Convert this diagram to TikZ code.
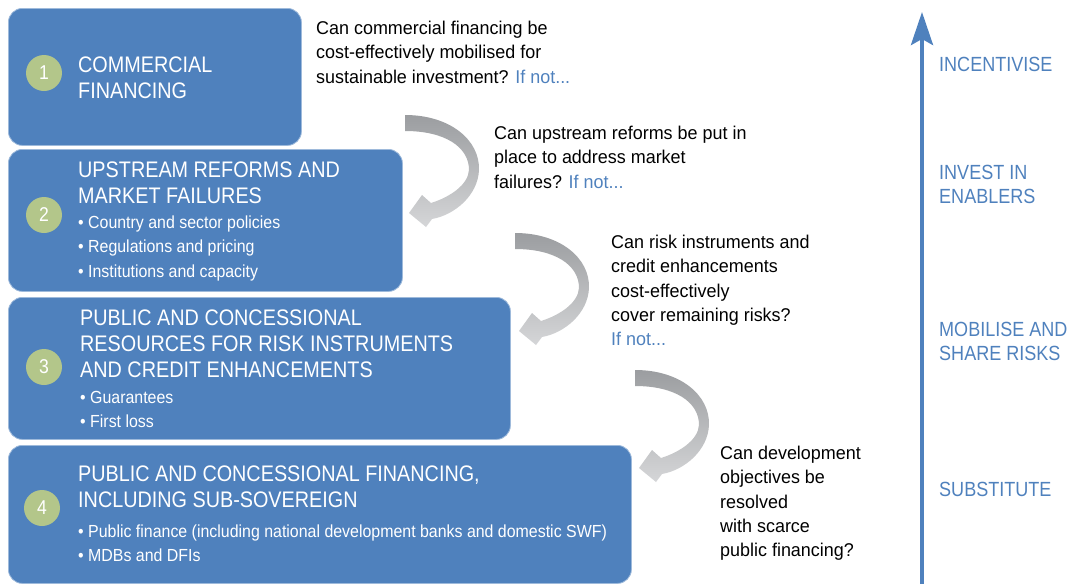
\documentclass[tikz,border=0pt]{standalone}
\usepackage{fontspec}
\setmainfont{Liberation Sans}
\newfontfamily\narrowA{Liberation Sans}[FakeStretch=0.88]
\newfontfamily\narrowB{Liberation Sans}[FakeStretch=0.91]
\newfontfamily\narrowC{Liberation Sans}[FakeStretch=0.97]
\usetikzlibrary{arrows.meta}
\definecolor{boxblue}{HTML}{4F81BD}
\definecolor{labelblue}{HTML}{4F81BD}
\definecolor{circgreen}{HTML}{B3C68A}
\definecolor{darkgrey}{HTML}{9B9DA0}
\definecolor{lightgrey}{HTML}{D5D6D8}
\newcommand{\mylines}[1]{\begin{tabular}[t]{@{}l@{}}#1\end{tabular}}
\tikzset{
  stagebox/.style={fill=boxblue, draw=boxblue!55!white, line width=0.8pt, rounded corners=14pt, anchor=north west, inner sep=0pt},
  numcirc/.style={circle, fill=circgreen, minimum size=36pt, inner sep=0pt, text=white, font=\narrowA\fontsize{20}{22}\selectfont},
  titletext/.style={anchor=base west, inner sep=0pt, text=white, font=\narrowA\fontsize{22.5}{26}\selectfont},
  bullettext/.style={anchor=base west, inner sep=0pt, text=white, font=\narrowB\fontsize{17.5}{24.5}\selectfont},
  question/.style={anchor=base west, inner sep=0pt, text=black, font=\narrowC\fontsize{18.5}{24.3}\selectfont},
  sidelabel/.style={anchor=base west, inner sep=0pt, text=labelblue, font=\narrowA\fontsize{20.5}{24}\selectfont},
  turnarrow/.pic={
    \shade[top color=darkgrey, bottom color=lightgrey]
      (0,0) .. controls (45,0) and (75,25) .. (74,55)
      .. controls (73,80) and (50,100) .. (27,104)
      -- (21,112) -- (4,98) -- (17,80) -- (26,88)
      .. controls (45,82) and (63,70) .. (64,55)
      .. controls (64,32) and (40,16) .. (0,16) -- cycle;
  }
}
\begin{document}
\begin{tikzpicture}[x=1pt,y=-1pt]
\useasboundingbox (0,0) rectangle (1072,584);

% stage boxes
\node[stagebox, minimum width=293pt, minimum height=137pt] (box1) at (8,8) {};
\node[stagebox, minimum width=394pt, minimum height=142pt] (box2) at (8,149) {};
\node[stagebox, minimum width=502pt, minimum height=142pt] (box3) at (8,297) {};
\node[stagebox, minimum width=623pt, minimum height=138pt] (box4) at (8,445) {};

% number circles
\node[numcirc] (c1) at (44,73) {1};
\node[numcirc] (c2) at (44,215) {2};
\node[numcirc] (c3) at (44,367) {3};
\node[numcirc] (c4) at (42,508) {4};

% box texts
\node[titletext] (t1) at (78,72.5) {\mylines{COMMERCIAL\\FINANCING}};
\node[titletext] (t2) at (78,177) {\mylines{UPSTREAM REFORMS AND\\MARKET FAILURES}};
\node[bullettext] (b2) at (78,228) {\mylines{• Country and sector policies\\• Regulations and pricing\\• Institutions and capacity}};
\node[titletext] (t3) at (80,325) {\mylines{PUBLIC AND CONCESSIONAL\\RESOURCES FOR RISK INSTRUMENTS\\AND CREDIT ENHANCEMENTS}};
\node[bullettext] (b3) at (80,403) {\mylines{• Guarantees\\• First loss}};
\node[titletext] (t4) at (78,481) {\mylines{PUBLIC AND CONCESSIONAL FINANCING,\\INCLUDING SUB-SOVEREIGN}};
\node[bullettext] (b4) at (78,537) {\mylines{• Public finance (including national development banks and domestic SWF)\\• MDBs and DFIs}};

% questions
\node[question] (q1) at (316,34.5) {\mylines{Can commercial financing be\\cost-effectively mobilised for\\sustainable investment? \textcolor{labelblue}{If not...}}};
\node[question] (q2) at (494,139.5) {\mylines{Can upstream reforms be put in\\place to address market\\failures? \textcolor{labelblue}{If not...}}};
\node[question] (q3) at (611,248.5) {\mylines{Can risk instruments and\\credit enhancements\\cost-effectively\\cover remaining risks?\\\textcolor{labelblue}{If not...}}};
\node[question] (q4) at (720,459.5) {\mylines{Can development\\objectives be\\resolved\\with scarce\\public financing?}};

% curved grey arrows
\pic at (405,115) {turnarrow};
\pic at (515,233) {turnarrow};
\pic at (635,370) {turnarrow};

% vertical axis
\coordinate (axisbottom) at (922,584);
\coordinate (axistop) at (922,12);
\draw[labelblue, line width=4pt, -{Stealth[length=33pt,width=22pt,inset=6pt]}] (axisbottom) -- (axistop);

% side labels
\node[sidelabel] (s1) at (939,71.5) {INCENTIVISE};
\node[sidelabel] (s2) at (939,179.5) {\mylines{INVEST IN\\ENABLERS}};
\node[sidelabel] (s3) at (939,336.5) {\mylines{MOBILISE AND\\SHARE RISKS}};
\node[sidelabel] (s4) at (939,496.5) {SUBSTITUTE};
\end{tikzpicture}
\end{document}
